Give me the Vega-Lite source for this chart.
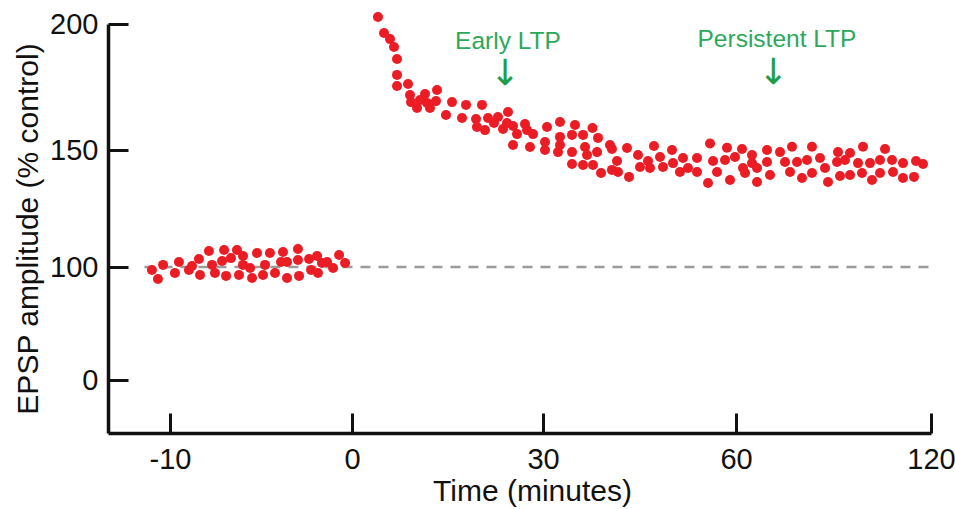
{
  "$schema": "https://vega.github.io/schema/vega-lite/v6.json",
  "autosize": {"type": "none"},
  "padding": {"left": 108, "top": 24, "right": 24, "bottom": 76},
  "width": 823,
  "height": 409,
  "background": "white",
  "config": {
    "view": {"stroke": null},
    "font": "Liberation Sans",
    "axis": {"grid": false}
  },
  "datasets": {
    "pts": [
      {"t": -10.99, "amp": 98.7}, {"t": -10.66, "amp": 94.9}, {"t": -10.38, "amp": 100.9}, {"t": -9.73, "amp": 97.4},
      {"t": -9.51, "amp": 102.1}, {"t": -8.96, "amp": 98.7}, {"t": -8.79, "amp": 100.4}, {"t": -8.41, "amp": 103.4},
      {"t": -8.35, "amp": 96.6}, {"t": -7.86, "amp": 106.8}, {"t": -7.69, "amp": 100.9}, {"t": -7.53, "amp": 97.4},
      {"t": -7.03, "amp": 107.3}, {"t": -7.14, "amp": 102.6}, {"t": -6.92, "amp": 96.2}, {"t": -6.65, "amp": 103.8},
      {"t": -6.32, "amp": 107.3}, {"t": -6.21, "amp": 96.6}, {"t": -5.99, "amp": 100.9}, {"t": -5.99, "amp": 104.7},
      {"t": -5.6, "amp": 99.6}, {"t": -5.49, "amp": 95.3}, {"t": -5.22, "amp": 106.0}, {"t": -4.89, "amp": 96.6},
      {"t": -4.78, "amp": 100.9}, {"t": -4.51, "amp": 106.0}, {"t": -4.23, "amp": 97.4}, {"t": -3.9, "amp": 102.1},
      {"t": -3.79, "amp": 106.4}, {"t": -3.57, "amp": 102.1}, {"t": -3.57, "amp": 95.3}, {"t": -2.97, "amp": 107.7},
      {"t": -2.97, "amp": 103.0}, {"t": -2.91, "amp": 96.2}, {"t": -2.36, "amp": 103.4}, {"t": -2.25, "amp": 98.7},
      {"t": -1.92, "amp": 104.7}, {"t": -1.87, "amp": 97.4}, {"t": -1.65, "amp": 101.7}, {"t": -1.37, "amp": 102.1},
      {"t": -1.04, "amp": 99.6}, {"t": -0.71, "amp": 105.1}, {"t": -0.38, "amp": 101.7},
      {"t": 4.08, "amp": 202.8}, {"t": 5.03, "amp": 196.4}, {"t": 5.97, "amp": 194.0}, {"t": 6.6, "amp": 190.9},
      {"t": 7.07, "amp": 186.1}, {"t": 7.07, "amp": 179.8}, {"t": 7.07, "amp": 175.4}, {"t": 8.8, "amp": 176.2},
      {"t": 9.11, "amp": 171.8}, {"t": 9.27, "amp": 169.0}, {"t": 10.21, "amp": 166.7}, {"t": 10.68, "amp": 169.8},
      {"t": 11.47, "amp": 172.2}, {"t": 11.78, "amp": 168.7}, {"t": 12.25, "amp": 166.7}, {"t": 13.19, "amp": 169.4},
      {"t": 13.35, "amp": 173.8}, {"t": 14.76, "amp": 163.9}, {"t": 15.71, "amp": 169.0}, {"t": 17.28, "amp": 162.7},
      {"t": 17.91, "amp": 167.9}, {"t": 19.48, "amp": 162.3}, {"t": 19.63, "amp": 159.1}, {"t": 20.42, "amp": 167.9},
      {"t": 20.89, "amp": 157.9}, {"t": 21.36, "amp": 162.7}, {"t": 22.3, "amp": 160.7}, {"t": 22.93, "amp": 163.1},
      {"t": 23.72, "amp": 158.3}, {"t": 24.5, "amp": 165.1}, {"t": 24.34, "amp": 160.7}, {"t": 25.29, "amp": 159.5},
      {"t": 25.92, "amp": 156.3}, {"t": 25.29, "amp": 152.0}, {"t": 27.17, "amp": 160.3}, {"t": 27.49, "amp": 157.9},
      {"t": 28.43, "amp": 156.3}, {"t": 27.96, "amp": 151.2}, {"t": 30.62, "amp": 159.1}, {"t": 30.31, "amp": 153.2},
      {"t": 30.31, "amp": 150.0}, {"t": 32.64, "amp": 161.1}, {"t": 32.64, "amp": 155.2}, {"t": 32.64, "amp": 152.0},
      {"t": 32.33, "amp": 149.1}, {"t": 34.97, "amp": 159.9}, {"t": 34.51, "amp": 156.0}, {"t": 34.51, "amp": 149.1},
      {"t": 34.51, "amp": 144.0}, {"t": 36.22, "amp": 156.0}, {"t": 37.69, "amp": 158.7}, {"t": 38.55, "amp": 154.8},
      {"t": 36.53, "amp": 151.2}, {"t": 38.4, "amp": 149.1}, {"t": 36.84, "amp": 147.9}, {"t": 36.22, "amp": 143.6},
      {"t": 37.77, "amp": 143.6}, {"t": 39.02, "amp": 140.2}, {"t": 40.41, "amp": 152.0}, {"t": 40.72, "amp": 150.4},
      {"t": 41.5, "amp": 145.3}, {"t": 40.72, "amp": 141.5}, {"t": 41.66, "amp": 140.6}, {"t": 43.06, "amp": 150.8},
      {"t": 43.37, "amp": 138.5}, {"t": 44.77, "amp": 147.9}, {"t": 45.08, "amp": 142.7}, {"t": 46.32, "amp": 145.3},
      {"t": 46.63, "amp": 142.3}, {"t": 47.25, "amp": 151.6}, {"t": 48.19, "amp": 147.0}, {"t": 48.65, "amp": 142.7},
      {"t": 50.05, "amp": 150.0}, {"t": 50.21, "amp": 144.4}, {"t": 51.29, "amp": 140.6}, {"t": 51.76, "amp": 146.6},
      {"t": 52.54, "amp": 142.3}, {"t": 53.94, "amp": 146.6}, {"t": 53.94, "amp": 140.6}, {"t": 55.65, "amp": 135.9},
      {"t": 55.96, "amp": 152.6}, {"t": 56.43, "amp": 145.3}, {"t": 57.05, "amp": 140.6}, {"t": 58.29, "amp": 145.7},
      {"t": 58.6, "amp": 150.9}, {"t": 59.07, "amp": 137.2}, {"t": 59.84, "amp": 147.0}, {"t": 61.85, "amp": 150.4},
      {"t": 62.15, "amp": 142.3}, {"t": 62.77, "amp": 140.2}, {"t": 64.92, "amp": 147.9}, {"t": 64.92, "amp": 144.4},
      {"t": 66.46, "amp": 136.3}, {"t": 66.46, "amp": 142.3}, {"t": 69.54, "amp": 150.0}, {"t": 69.54, "amp": 144.9},
      {"t": 70.46, "amp": 139.3}, {"t": 73.54, "amp": 149.1}, {"t": 75.08, "amp": 144.9}, {"t": 76.62, "amp": 140.6},
      {"t": 77.23, "amp": 151.3}, {"t": 78.77, "amp": 144.9}, {"t": 80.31, "amp": 138.0}, {"t": 81.85, "amp": 145.7},
      {"t": 83.38, "amp": 151.3}, {"t": 85.85, "amp": 146.6}, {"t": 83.38, "amp": 140.2}, {"t": 87.38, "amp": 142.3},
      {"t": 88.31, "amp": 136.3}, {"t": 91.38, "amp": 149.1}, {"t": 91.08, "amp": 144.9}, {"t": 92.0, "amp": 138.9},
      {"t": 93.54, "amp": 145.7}, {"t": 95.08, "amp": 148.7}, {"t": 95.08, "amp": 139.3}, {"t": 97.54, "amp": 144.4},
      {"t": 98.77, "amp": 140.2}, {"t": 99.08, "amp": 151.3}, {"t": 101.23, "amp": 144.4}, {"t": 101.85, "amp": 137.2},
      {"t": 104.31, "amp": 145.7}, {"t": 104.31, "amp": 140.2}, {"t": 105.85, "amp": 150.4}, {"t": 108.0, "amp": 145.7},
      {"t": 108.31, "amp": 140.6}, {"t": 111.38, "amp": 144.4}, {"t": 111.38, "amp": 138.0}, {"t": 114.77, "amp": 138.5},
      {"t": 115.38, "amp": 145.3}, {"t": 117.54, "amp": 144.0}
    ],
    "one": [{}]
  },
  "layer": [
    {
      "data": {"name": "one"},
      "mark": {"type": "rule", "stroke": "#9b9b9b", "strokeWidth": 2.5, "strokeDash": [10, 8]},
      "encoding": {
        "x": {"datum": -11.4, "type": "quantitative"},
        "x2": {"datum": 120},
        "y": {"datum": 100, "type": "quantitative"}
      }
    },
    {
      "data": {"name": "pts"},
      "mark": {"type": "point", "filled": true, "opacity": 1, "color": "#ec1c24", "size": 100},
      "encoding": {
        "x": {
          "field": "t", "type": "quantitative",
          "scale": {"domain": [-13.4, -10, 0, 30, 60, 120], "range": [0, 62, 244, 435, 628, 823], "nice": false, "zero": false},
          "axis": {
            "values": [-10, 0, 30, 60, 120],
            "labelExpr": "'' + datum.value",
            "title": "Time (minutes)",
            "titleX": 424,
            "tickSize": -20, "tickWidth": 3, "tickColor": "#111", "domainWidth": 3.5, "domainColor": "#111",
            "labelFontSize": 29, "labelPadding": 32, "labelColor": "#111", "labelOverlap": false, "labelFlush": false,
            "titleFontSize": 30, "titleFontWeight": "normal", "titleColor": "#111", "titlePadding": 2
          }
        },
        "y": {
          "field": "amp", "type": "quantitative",
          "scale": {"domain": [-54, 0, 90, 100, 150, 200], "range": [409, 356, 266.4, 243, 126, 0], "nice": false, "zero": false},
          "axis": {
            "values": [0, 100, 150, 200],
            "title": "EPSP amplitude (% control)",
            "tickSize": -20, "tickWidth": 3, "tickColor": "#111", "domainWidth": 3.5, "domainColor": "#111",
            "labelFontSize": 29, "labelPadding": 30, "labelColor": "#111", "labelOverlap": false, "labelFlush": false,
            "titleFontSize": 30, "titleFontWeight": "normal", "titleColor": "#111", "titlePadding": 6
          }
        }
      }
    },
    {
      "data": {"name": "one"},
      "mark": {"type": "text", "text": "Early LTP", "fontSize": 24.5, "color": "#2da85a", "align": "center", "baseline": "middle"},
      "encoding": {"x": {"datum": 24.5, "type": "quantitative"}, "y": {"datum": 192.9, "type": "quantitative"}}
    },
    {
      "data": {"name": "one"},
      "mark": {"type": "text", "text": "Persistent LTP", "fontSize": 24.5, "color": "#2da85a", "align": "center", "baseline": "middle"},
      "encoding": {"x": {"datum": 72.6, "type": "quantitative"}, "y": {"datum": 193.7, "type": "quantitative"}}
    },
    {
      "data": {"name": "one"},
      "mark": {"type": "text", "text": "↓", "font": "DejaVu Sans", "fontSize": 36, "color": "#1e9e4a", "align": "center", "baseline": "middle"},
      "encoding": {"x": {"datum": 24.0, "type": "quantitative"}, "y": {"datum": 180.2, "type": "quantitative"}}
    },
    {
      "data": {"name": "one"},
      "mark": {"type": "text", "text": "↓", "font": "DejaVu Sans", "fontSize": 36, "color": "#1e9e4a", "align": "center", "baseline": "middle"},
      "encoding": {"x": {"datum": 71.4, "type": "quantitative"}, "y": {"datum": 180.6, "type": "quantitative"}}
    }
  ]
}
